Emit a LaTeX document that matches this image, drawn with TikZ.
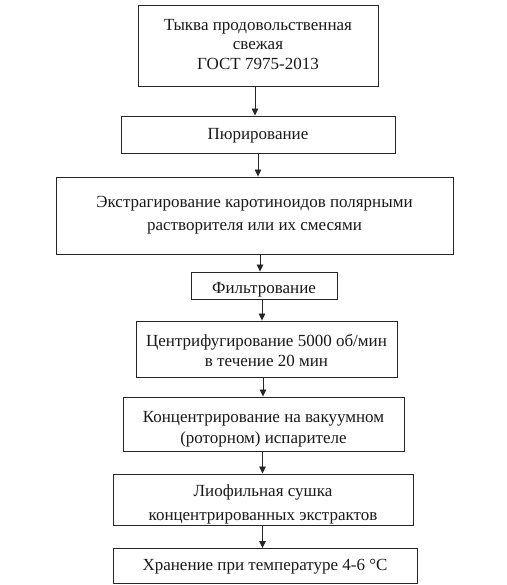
\documentclass[tikz,border=0pt]{standalone}
\usepackage{fontspec}
\setmainfont{Liberation Serif}
\usetikzlibrary{arrows.meta,calc}
\begin{document}
\begin{tikzpicture}[x=1pt,y=-1pt,
  box/.style={draw=black!85, line width=0.9pt, inner sep=0pt},
  txt/.style={inner sep=0pt, align=center, text=black!90, font=\fontsize{17}{20}\selectfont},
  arr/.style={draw=black!85, line width=0.8pt, -{Triangle[length=7pt,width=6.5pt]}}]
\useasboundingbox (0,0) rectangle (506,585);
% boxes
\node[box, minimum width=240pt, minimum height=81pt] (b1) at (258,45.5) {};
\node[box, minimum width=274pt, minimum height=37pt] (b2) at (258,134.5) {};
\node[box, minimum width=397pt, minimum height=77pt] (b3) at (254.5,215.5) {};
\node[box, minimum width=146pt, minimum height=27pt] (b4) at (264,285.5) {};
\node[box, minimum width=261pt, minimum height=56pt] (b5) at (266.5,349) {};
\node[box, minimum width=281pt, minimum height=54pt] (b6) at (263.5,424) {};
\node[box, minimum width=300pt, minimum height=51pt] (b7) at (263,499.5) {};
\node[box, minimum width=304pt, minimum height=35pt] (b8) at (265,566) {};
% texts
\node[txt, font=\fontsize{17}{19.5}\selectfont] (t1) at ([yshift=1pt]b1.center) {Тыква продовольственная\\свежая\\ГОСТ 7975-2013};
\node[txt] (t2) at ([yshift=-1pt]b2.center) {Пюрирование};
\node[txt, font=\fontsize{17}{23}\selectfont] (t3) at (b3.center) {Экстрагирование каротиноидов полярными\\растворителя или их смесями};
\node[txt] (t4) at ([yshift=-4.5pt]b4.center) {Фильтрование};
\node[txt] (t5) at ([yshift=-1pt]b5.center) {Центрифугирование 5000 об/мин\\в течение 20 мин};
\node[txt, font=\fontsize{17}{21.5}\selectfont] (t6) at ([yshift=-5pt]b6.center) {Концентрирование на вакуумном\\(роторном) испарителе};
\node[txt, font=\fontsize{17}{23.5}\selectfont] (t7) at ([yshift=-5pt]b7.center) {Лиофильная сушка\\концентрированных экстрактов};
\node[txt] (t8) at ([yshift=-1pt]b8.center) {Хранение при температуре 4-6 °C};
% arrows
\coordinate (x1) at (255,0);
\coordinate (x2) at (258,0);
\coordinate (x3) at (260,0);
\coordinate (x4) at (262,0);
\coordinate (x5) at (263,0);
\coordinate (x6) at (262.5,0);
\coordinate (x7) at (262.5,0);
\draw[arr] (b1.south -| x1) -- (b2.north -| x1);
\draw[arr] (b2.south -| x2) -- (b3.north -| x2);
\draw[arr] (b3.south -| x3) -- (b4.north -| x3);
\draw[arr] (b4.south -| x4) -- (b5.north -| x4);
\draw[arr] (b5.south -| x5) -- (b6.north -| x5);
\draw[arr] (b6.south -| x6) -- (b7.north -| x6);
\draw[arr] (b7.south -| x7) -- (b8.north -| x7);
\end{tikzpicture}
\end{document}
